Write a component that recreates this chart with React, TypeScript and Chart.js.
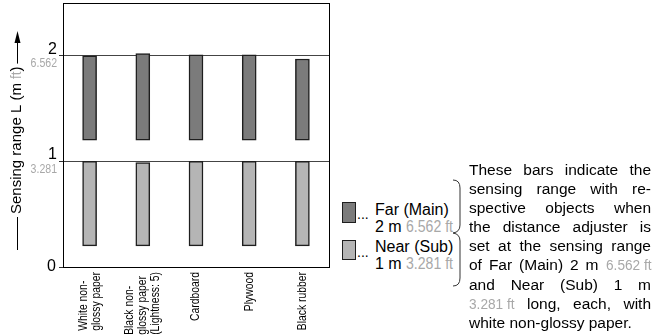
import React, { useEffect, useRef } from "react";
import { Chart, registerables } from "chart.js";

Chart.register(...registerables);

// ---- data ----
const categories: string[][] = [
  ["White non-", "glossy paper"],
  ["Black non-", "glossy paper", "(Lightness: 5)"],
  ["Cardboard"],
  ["Plywood"],
  ["Black rubber"],
];
const farLow = [1.2, 1.2, 1.2, 1.2, 1.2];
const farHigh = [2.0, 2.02, 2.01, 2.01, 1.97];
const nearLow = [0.2, 0.2, 0.2, 0.2, 0.2];
const nearHigh = [1.0, 0.99, 1.0, 1.0, 1.0];
const yTicks = [0, 1, 2];
const yTickFt = ["", "3.281", "6.562"];
const yMax = 2.5;

const SANS = '"Liberation Sans", Arial, Helvetica, sans-serif';
const GRAY = "#a8a8a8";
const NARROW_SX = 0.88;

function drawText(
  ctx: CanvasRenderingContext2D,
  text: string,
  x: number,
  y: number,
  font: string,
  color: string,
  align: CanvasTextAlign,
  baseline: CanvasTextBaseline,
  sx = 1,
  rot = 0
) {
  ctx.save();
  ctx.translate(x, y);
  if (rot) ctx.rotate(rot);
  ctx.scale(sx, 1);
  ctx.font = font;
  ctx.fillStyle = color;
  ctx.textAlign = align;
  ctx.textBaseline = baseline;
  ctx.fillText(text, 0, 0);
  ctx.restore();
}

const drawPlugin = {
  id: "custom",
  afterDraw(chart: any) {
    const { ctx, chartArea } = chart;
    const ys = chart.scales.y;
    const xs = chart.scales.x;
    ctx.save();
    // frame
    ctx.strokeStyle = "#000";
    ctx.lineWidth = 1;
    ctx.strokeRect(
      Math.round(chartArea.left) + 0.5,
      Math.round(chartArea.top) + 0.5,
      Math.round(chartArea.right - chartArea.left),
      Math.round(chartArea.bottom - chartArea.top)
    );
    // y tick labels
    yTicks.forEach((v, i) => {
      const py = ys.getPixelForValue(v);
      if (v === 0) {
        drawText(ctx, String(v), 56, py, "16px " + SANS, "#000", "right", "middle");
      } else {
        drawText(ctx, String(v), 57, py - 2, "16px " + SANS, "#000", "right", "alphabetic");
        drawText(ctx, yTickFt[i], 57, py + 2, "12px " + SANS, GRAY, "right", "top", NARROW_SX);
      }
    });
    // x labels: lines start-aligned (bottom), longest line reaching the axis
    const lh = 13;
    const xf = "12.5px " + SANS;
    const xsx = 0.83;
    ctx.font = xf;
    categories.forEach((lines, i) => {
      const px = xs.getPixelForTick(i);
      const n = lines.length;
      const maxW = Math.max(...lines.map((l) => ctx.measureText(l).width)) * xsx;
      const startY = chartArea.bottom + 5 + maxW;
      lines.forEach((ln, j) => {
        const cx = px + (j - (n - 1) / 2) * lh;
        drawText(ctx, ln, cx, startY, xf, "#000", "left", "middle", xsx, -Math.PI / 2);
      });
    });
    // y title
    const tx = 17;
    const tStart = 214;
    const f15 = "15px " + SANS;
    ctx.font = f15;
    const part1 = "Sensing range L (m ";
    const w1 = ctx.measureText(part1).width;
    const w2 = ctx.measureText("ft").width * NARROW_SX;
    const w3 = ctx.measureText(")").width;
    drawText(ctx, part1, tx, tStart, f15, "#000", "left", "middle", 1, -Math.PI / 2);
    drawText(ctx, "ft", tx, tStart - w1, f15, GRAY, "left", "middle", NARROW_SX, -Math.PI / 2);
    drawText(ctx, ")", tx, tStart - w1 - w2, f15, "#000", "left", "middle", 1, -Math.PI / 2);
    const textTop = tStart - (w1 + w2 + w3);
    ctx.strokeStyle = "#000";
    ctx.lineWidth = 1;
    ctx.beginPath();
    ctx.moveTo(tx + 0.5, 250);
    ctx.lineTo(tx + 0.5, tStart + 3);
    ctx.moveTo(tx + 0.5, textTop - 3);
    ctx.lineTo(tx + 0.5, 42);
    ctx.stroke();
    ctx.fillStyle = "#000";
    ctx.beginPath();
    ctx.moveTo(tx + 0.5, 31);
    ctx.lineTo(tx + 3.5, 43);
    ctx.lineTo(tx - 2.5, 43);
    ctx.closePath();
    ctx.fill();
    ctx.restore();
  },
};

function ChartView() {
  const ref = useRef<HTMLCanvasElement | null>(null);
  useEffect(() => {
    if (!ref.current) return;
    const chart = new Chart(ref.current, {
      type: "bar",
      data: {
        labels: categories.map((c) => c.join(" ")),
        datasets: [
          {
            label: "Far (Main)",
            data: farLow.map((l, i) => [l, farHigh[i]]) as any,
            backgroundColor: "#7b7b7b",
            borderColor: "#1e1e1e",
            borderWidth: 1.5,
            borderSkipped: false,
            barThickness: 14,
            grouped: false,
          } as any,
          {
            label: "Near (Sub)",
            data: nearLow.map((l, i) => [l, nearHigh[i]]) as any,
            backgroundColor: "#b5b5b5",
            borderColor: "#1e1e1e",
            borderWidth: 1.5,
            borderSkipped: false,
            barThickness: 14,
            grouped: false,
          } as any,
        ],
      },
      options: {
        animation: false,
        responsive: false,
        layout: { padding: { top: 3, right: 6, left: 0, bottom: 0 } },
        plugins: { legend: { display: false }, tooltip: { enabled: false } },
        scales: {
          x: {
            grid: { display: false, drawTicks: false },
            border: { display: true, color: "#000", width: 1 },
            ticks: { display: false },
            afterFit: (s: any) => {
              s.height = 68;
            },
          },
          y: {
            min: 0,
            max: yMax,
            grid: {
              color: (c: any) => (c.tick && c.tick.value === 0 ? "rgba(0,0,0,0)" : "#444"),
              tickColor: "#333",
              tickLength: 4,
              drawTicks: true,
              lineWidth: 1,
            },
            border: { display: true, color: "#000", width: 1 },
            ticks: { display: false },
            afterBuildTicks: (s: any) => {
              s.ticks = yTicks.map((v) => ({ value: v }));
            },
            afterFit: (s: any) => {
              s.width = 63;
            },
          },
        },
      },
      plugins: [drawPlugin],
    });
    return () => chart.destroy();
  }, []);
  return <canvas ref={ref} width={335} height={335} style={{ position: "absolute", left: 0, top: 0 }} />;
}

let measureCtx: CanvasRenderingContext2D | null = null;
function measure(text: string, size: number) {
  if (!measureCtx) measureCtx = document.createElement("canvas").getContext("2d");
  measureCtx!.font = `${size}px ${SANS}`;
  return measureCtx!.measureText(text).width;
}

function Narrow({ text, size }: { text: string; size: number }) {
  const w = measure(text, size) * NARROW_SX;
  return (
    <span style={{ display: "inline-block", width: w, whiteSpace: "nowrap", color: GRAY, textAlign: "left", textAlignLast: "left" } as any}>
      <span style={{ display: "inline-block", transform: `scaleX(${NARROW_SX})`, transformOrigin: "0 0" }}>{text}</span>
    </span>
  );
}

export default function App() {
  const PS = 15.5;
  const para: React.ReactNode[] = [
    "These bars indicate the",
    "sensing range with re-",
    "spective objects when",
    "the distance adjuster is",
    "set at the sensing range",
    <>of Far (Main) 2 m <Narrow text="6.562 ft" size={PS} /></>,
    "and Near (Sub) 1 m",
    <><Narrow text="3.281 ft" size={PS} /> long, each, with</>,
    "white non-glossy paper.",
  ];
  const LS = 16;
  return (
    <div
      style={{
        position: "fixed",
        left: 0,
        top: 0,
        width: 661,
        height: 335,
        background: "#fff",
        overflow: "hidden",
        fontFamily: SANS,
        color: "#000",
      }}
    >
      <ChartView />
      {/* legend */}
      <div style={{ position: "absolute", left: 342, top: 202, width: 14, height: 21, boxSizing: "border-box", border: "1.5px solid #1e1e1e", background: "#7b7b7b" }} />
      <div style={{ position: "absolute", left: 342, top: 240, width: 14, height: 20, boxSizing: "border-box", border: "1.5px solid #1e1e1e", background: "#b5b5b5" }} />
      <div style={{ position: "absolute", left: 357, top: 206, fontSize: 14, lineHeight: "16px" }}>...</div>
      <div style={{ position: "absolute", left: 357, top: 244, fontSize: 14, lineHeight: "16px" }}>...</div>
      <div style={{ position: "absolute", left: 375, top: 201, fontSize: LS, lineHeight: "17px", whiteSpace: "nowrap" }}>
        <div>Far (Main)</div>
        <div>2 m <Narrow text="6.562 ft" size={LS} /></div>
      </div>
      <div style={{ position: "absolute", left: 375, top: 238, fontSize: LS, lineHeight: "17px", whiteSpace: "nowrap" }}>
        <div>Near (Sub)</div>
        <div>1 m <Narrow text="3.281 ft" size={LS} /></div>
      </div>
      <svg style={{ position: "absolute", left: 0, top: 0 }} width={661} height={335}>
        <path
          d="M453,180 Q460,180 460,188 L460,225 Q460,232 453,233 Q460,234 460,241 L460,278 Q460,286 453,286"
          fill="none"
          stroke="#333"
          strokeWidth={1}
        />
      </svg>
      <div style={{ position: "absolute", left: 469, top: 160, width: 182, fontSize: PS, lineHeight: "19.1px" }}>
        {para.map((p, i) => (
          <div
            key={i}
            style={{
              textAlign: "justify",
              textAlignLast: i === para.length - 1 ? "left" : "justify",
              whiteSpace: "nowrap",
            } as any}
          >
            {p}
          </div>
        ))}
      </div>
    </div>
  );
}
